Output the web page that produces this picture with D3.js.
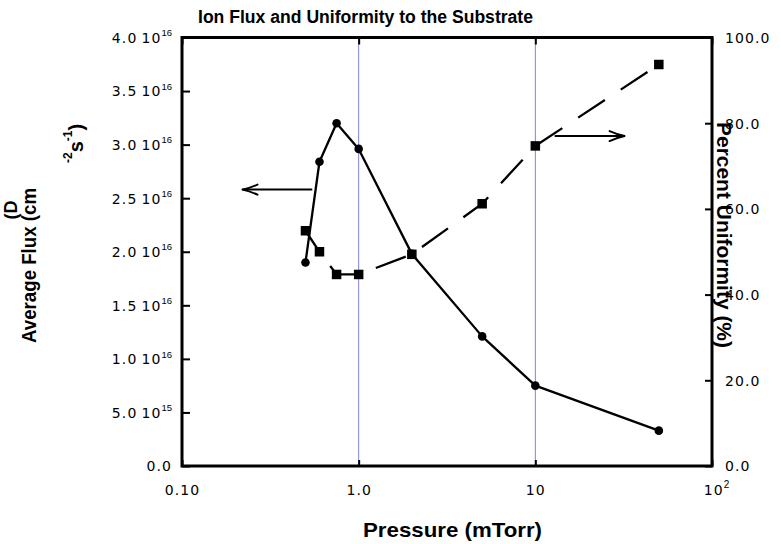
<!DOCTYPE html>
<html>
<head>
<meta charset="utf-8">
<script src="https://cdn.jsdelivr.net/npm/d3@7"></script>
<style>
  html, body { margin: 0; padding: 0; background: #ffffff; }
  svg { display: block; }
</style>
</head>
<body>
<svg id="chart" width="781" height="544"></svg>
<script>
// ---- data ----
const pressure   = [0.5, 0.6, 0.75, 1.0, 2.0, 5.0, 10, 50];
const avgFlux    = [1.90e16, 2.84e16, 3.20e16, 2.96e16, 1.98e16, 1.21e16, 0.75e16, 0.33e16];
const uniformity = [54.9, 50.0, 44.7, 44.7, 49.4, 61.2, 74.7, 93.7];

const xTicks      = [0.1, 1, 10, 100];
const xTickMant   = ["0.10", "1.0", "10", "10"];
const xTickExp    = ["", "", "", "2"];
const gridX       = [1, 10];

const fluxTicks   = [0, 5e15, 1e16, 1.5e16, 2e16, 2.5e16, 3e16, 3.5e16, 4e16];
const fluxMant    = ["0.0", "5.0", "1.0", "1.5", "2.0", "2.5", "3.0", "3.5", "4.0"];
const fluxExp     = ["", "15", "16", "16", "16", "16", "16", "16", "16"];

const unifTicks   = [0, 20, 40, 60, 80, 100];
const unifLabels  = ["0.0", "20.0", "40.0", "60.0", "80.0", "100.0"];

// annotation arrows (data coordinates): [from, to]
const fluxArrowX  = [0.54, 0.22];
const fluxArrowY  = 2.58e16;
const unifArrowX  = [13, 32];
const unifArrowY  = 77;

const titleText   = "Ion Flux and Uniformity to the Substrate";
const xTitle      = "Pressure (mTorr)";
const yRightTitle = "Percent Uniformity (%)";

// ---- layout ----
const L = 182, R = 712, T = 37.5, B = 466;
const svg = d3.select("#chart");
const x = d3.scaleLog().domain([0.1, 100]).range([L, R]);
const yF = d3.scaleLinear().domain([0, 4e16]).range([B, T]);
const yU = d3.scaleLinear().domain([0, 100]).range([B, T]);

const tickFont = "'DejaVu Sans', Verdana, sans-serif";
const boldFont = "'Liberation Sans', Arial, Helvetica, sans-serif";

// grid lines
svg.append("g").selectAll("line").data(gridX).join("line")
  .attr("x1", d => x(d)).attr("x2", d => x(d))
  .attr("y1", T).attr("y2", B)
  .attr("stroke", "#8080e0").attr("stroke-width", 1);

// axes
function styleAxis(g) {
  g.select(".domain").remove();
  g.selectAll(".tick line").attr("stroke", "#000").attr("stroke-width", 2);
  g.selectAll(".tick text").attr("fill", "#000")
    .style("font-family", tickFont).style("font-size", "14px")
    .style("letter-spacing", "1.1px");
}

// left axis
const gL = svg.append("g").attr("transform", `translate(${L},0)`)
  .call(d3.axisLeft(yF).tickValues(fluxTicks).tickSize(-8).tickPadding(10).tickFormat(""))
  .call(styleAxis);
gL.selectAll(".tick text").each(function(d, i) {
  const t = d3.select(this).attr("dy", null).attr("y", 4.8).attr("text-anchor", "end");
  if (fluxExp[i]) {
    t.append("tspan").text(fluxMant[i]);
    t.append("tspan").attr("dx", 4).text("10");
    t.append("tspan").attr("dy", -6.6)
      .style("font-family", boldFont).style("font-size", "9.5px").style("letter-spacing", "0px")
      .text(fluxExp[i]);
  } else {
    t.text(fluxMant[i]);
  }
});

// right axis
const gR = svg.append("g").attr("transform", `translate(${R},0)`)
  .call(d3.axisRight(yU).tickValues(unifTicks).tickSize(-7).tickPadding(13).tickFormat((d, i) => unifLabels[i]))
  .call(styleAxis);
gR.selectAll(".tick text").attr("dy", null).attr("y", 4.8);

// bottom axis
const gB = svg.append("g").attr("transform", `translate(0,${B})`)
  .call(d3.axisBottom(x).tickValues(xTicks).tickSize(-6).tickPadding(10).tickFormat(""))
  .call(styleAxis);
gB.selectAll(".tick text").each(function(d, i) {
  const t = d3.select(this).attr("dy", null).attr("y", 29).attr("text-anchor", "middle");
  t.append("tspan").text(xTickMant[i]);
  if (xTickExp[i]) {
    t.attr("dx", 4);
    t.append("tspan").attr("dy", -7)
      .style("font-family", boldFont).style("font-size", "10px").style("letter-spacing", "0px")
      .text(xTickExp[i]);
  }
});

// top axis (ticks only)
svg.append("g").attr("transform", `translate(0,${T})`)
  .call(d3.axisTop(x).tickValues(xTicks).tickSize(-7).tickFormat(""))
  .call(styleAxis);

// frame
svg.append("rect").attr("x", L).attr("y", T).attr("width", R - L).attr("height", B - T)
  .attr("fill", "none").attr("stroke", "#000").attr("stroke-width", 3);

// flux series (solid, circles)
const fluxData = pressure.map((p, i) => [p, avgFlux[i]]);
svg.append("path").datum(fluxData)
  .attr("d", d3.line().x(d => x(d[0])).y(d => yF(d[1])))
  .attr("fill", "none").attr("stroke", "#000").attr("stroke-width", 2.3)
  .attr("stroke-linejoin", "round");
svg.append("g").selectAll("circle").data(fluxData).join("circle")
  .attr("cx", d => x(d[0])).attr("cy", d => yF(d[1])).attr("r", 4.3).attr("fill", "#000");

// uniformity series (dashed, squares)
const unifData = pressure.map((p, i) => [p, uniformity[i]]);
svg.append("path").datum(unifData)
  .attr("d", d3.line().x(d => x(d[0])).y(d => yU(d[1])))
  .attr("fill", "none").attr("stroke", "#000").attr("stroke-width", 2.3)
  .attr("stroke-dasharray", "32,19").attr("stroke-dashoffset", 7.9);
const S = 9.5;
svg.append("g").selectAll("rect").data(unifData).join("rect")
  .attr("x", d => x(d[0]) - S / 2).attr("y", d => yU(d[1]) - S / 2)
  .attr("width", S).attr("height", S).attr("fill", "#000");

// arrows
function arrow(x0, x1, yy) {
  const dir = Math.sign(x1 - x0);
  const g = svg.append("g").attr("stroke", "#000").attr("fill", "none")
    .attr("stroke-width", 2).attr("stroke-linecap", "round");
  g.append("line").attr("x1", x0).attr("x2", x1).attr("y1", yy).attr("y2", yy);
  g.append("path")
    .attr("d", `M${x1 - dir * 15},${yy - 5} Q${x1 - dir * 7},${yy - 1.5} ${x1},${yy} Q${x1 - dir * 7},${yy + 1.5} ${x1 - dir * 15},${yy + 5}`);
}
arrow(x(fluxArrowX[0]), x(fluxArrowX[1]), yF(fluxArrowY));
arrow(x(unifArrowX[0]), x(unifArrowX[1]), yU(unifArrowY));

// title
svg.append("text").attr("x", 198).attr("y", 23)
  .style("font-family", boldFont).style("font-weight", "bold").style("font-size", "18px")
  .attr("textLength", 335).attr("lengthAdjust", "spacingAndGlyphs")
  .text(titleText);

// x title
svg.append("text").attr("x", 363).attr("y", 537)
  .style("font-family", boldFont).style("font-weight", "bold").style("font-size", "21px")
  .attr("textLength", 179).attr("lengthAdjust", "spacingAndGlyphs")
  .text(xTitle);

// left title (broken layout as in the reference)
svg.append("text").attr("transform", "translate(17,210) rotate(-90)")
  .attr("text-anchor", "middle")
  .style("font-family", boldFont).style("font-weight", "bold").style("font-size", "18px")
  .text("(D");
svg.append("text").attr("transform", "translate(36,343) rotate(-90)")
  .style("font-family", boldFont).style("font-weight", "bold").style("font-size", "20px")
  .attr("textLength", 155).attr("lengthAdjust", "spacingAndGlyphs")
  .text("Average Flux (cm");
const unitT = svg.append("text").attr("transform", "translate(83,163) rotate(-90)")
  .style("font-family", boldFont).style("font-weight", "bold").style("font-size", "20px");
unitT.append("tspan").attr("dy", -11).style("font-size", "12px").text("-2");
unitT.append("tspan").attr("dy", 11).text("s");
unitT.append("tspan").attr("dy", -11).style("font-size", "12px").text("-1");
unitT.append("tspan").attr("dy", 11).text(")");

// right title
svg.append("text").attr("transform", "translate(717,122) rotate(90)")
  .style("font-family", boldFont).style("font-weight", "bold").style("font-size", "20px")
  .attr("textLength", 226).attr("lengthAdjust", "spacingAndGlyphs")
  .text(yRightTitle);
</script>
</body>
</html>
